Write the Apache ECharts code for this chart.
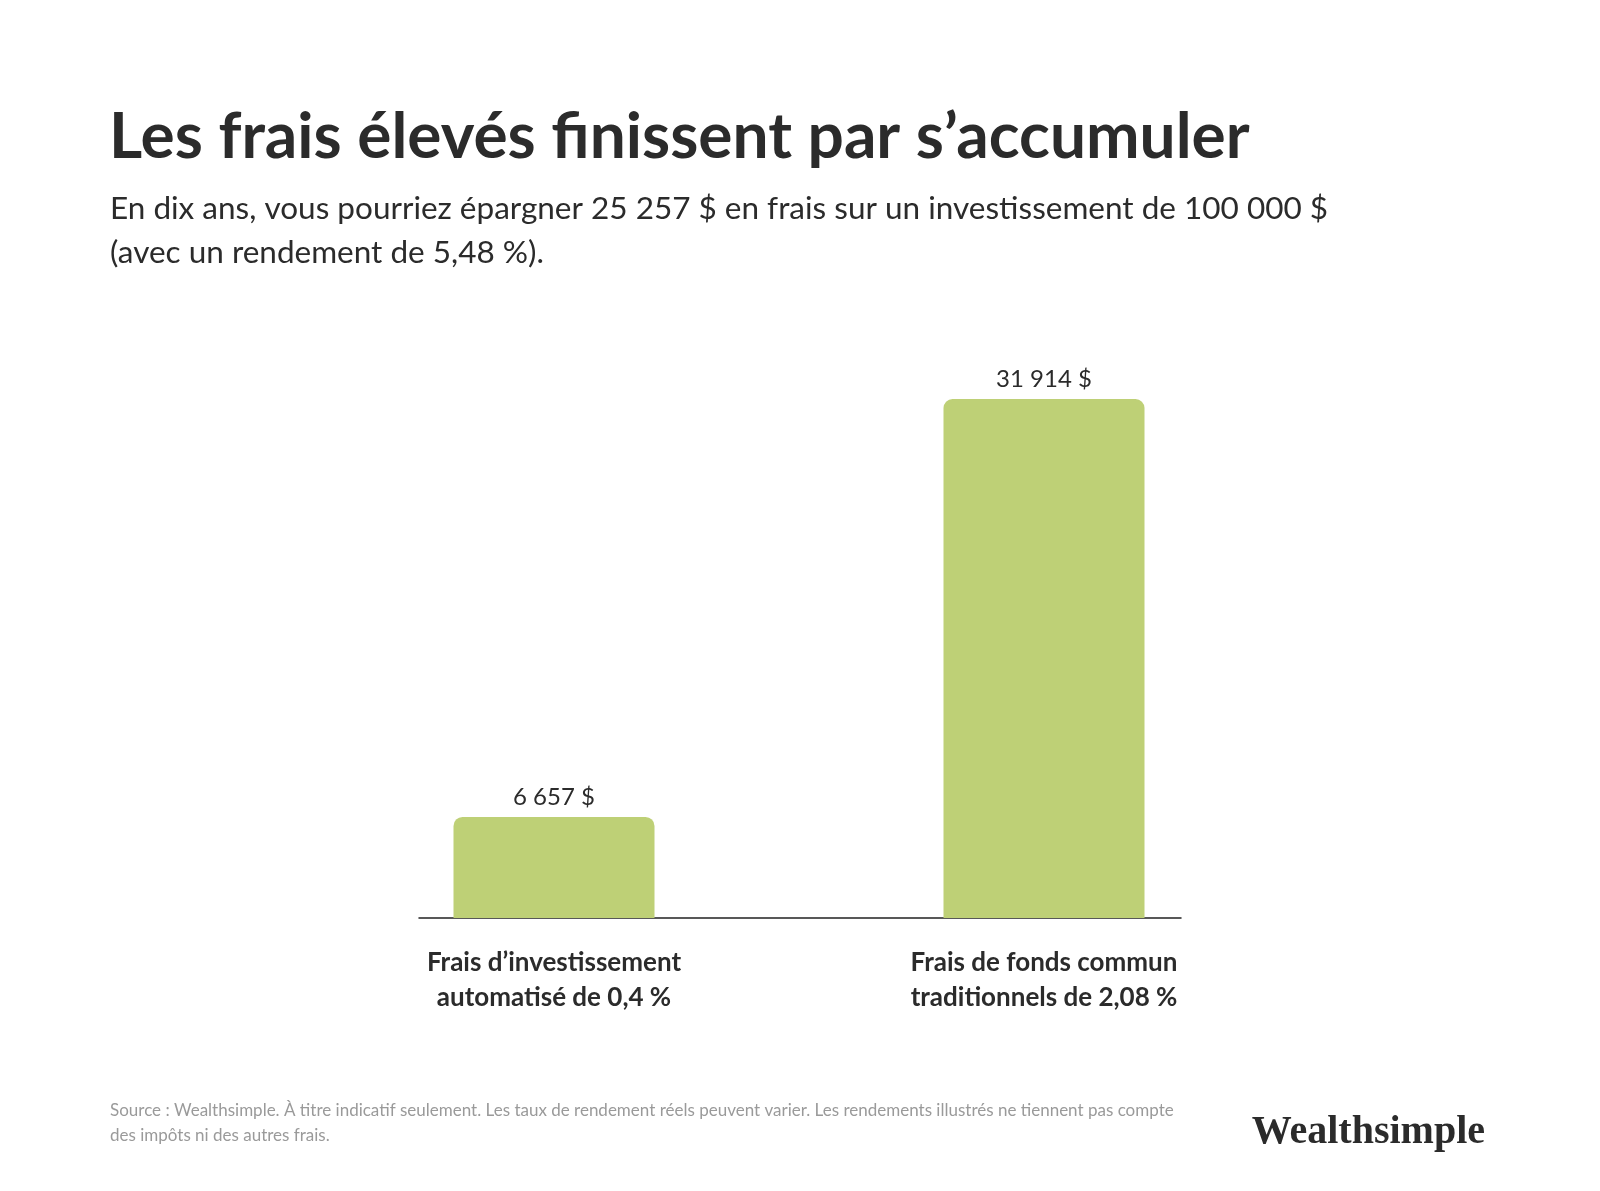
<!DOCTYPE html>
<html>
<head>
<meta charset="utf-8">
<script src="https://cdn.jsdelivr.net/npm/echarts@6/dist/echarts.min.js"></script>
<style>
html,body{margin:0;padding:0;background:#ffffff;}
#chart{width:1600px;height:1191px;}
</style>
</head>
<body>
<div id="chart"></div>
<script>
const categories = ['Frais d’investissement\nautomatisé de 0,4 %', 'Frais de fonds commun\ntraditionnels de 2,08 %'];
const feeValues = [6657, 31914];
const titleText = 'Les frais élevés finissent par s’accumuler';
const subtitleText = 'En dix ans, vous pourriez épargner 25 257 $ en frais sur un investissement de 100 000 $\n(avec un rendement de 5,48 %).';
const sourceText = 'Source : Wealthsimple. À titre indicatif seulement. Les taux de rendement réels peuvent varier. Les rendements illustrés ne tiennent pas compte\ndes impôts ni des autres frais.';
const brandText = 'Wealthsimple';
const yMin = 550;
const yMax = 31914;

function fmt(v) {
  return String(v).replace(/\B(?=(\d{3})+(?!\d))/g, ' ') + ' $';
}

const FONT = 'Lato, "Noto Sans", sans-serif';
const chart = echarts.init(document.getElementById('chart'), null, {renderer: 'canvas'});
chart.setOption({
  backgroundColor: '#ffffff',
  animation: false,
  title: [
    {
      text: titleText,
      left: 104, top: 100,
      textStyle: {fontFamily: FONT, fontSize: 64, fontWeight: 'bold', color: '#2b2b2b'}
    },
    {
      text: subtitleText,
      left: 105, top: 182,
      textStyle: {fontFamily: FONT, fontSize: 31.5, fontWeight: 'normal', color: '#2b2b2b', lineHeight: 44}
    },
    {
      text: sourceText,
      left: 105, top: 1093,
      textStyle: {fontFamily: FONT, fontSize: 17, fontWeight: 'normal', color: '#9a9a9a', lineHeight: 25}
    },
    {
      text: brandText,
      right: 110, top: 1108,
      textStyle: {fontFamily: '"Liberation Serif", "DejaVu Serif", serif', fontSize: 40, fontWeight: 'bold', color: '#2b2b2b'}
    }
  ],
  grid: [
    {left: 309, right: 311, top: 399, bottom: 273, containLabel: false},
    {left: 419, right: 419, top: 399, bottom: 273, containLabel: false}
  ],
  xAxis: [
    {
      type: 'category', gridIndex: 0, data: categories,
      axisLine: {show: false}, axisTick: {show: false},
      axisLabel: {
        margin: 27, fontFamily: FONT, fontSize: 26, fontWeight: 'bold',
        color: '#2b2b2b', lineHeight: 35, interval: 0
      }
    },
    {
      type: 'category', gridIndex: 1, data: categories,
      axisLine: {show: true, lineStyle: {color: '#222222', width: 1.5}},
      axisTick: {show: false}, axisLabel: {show: false}
    }
  ],
  yAxis: [
    {type: 'value', gridIndex: 0, min: yMin, max: yMax, show: false, splitLine: {show: false}},
    {type: 'value', gridIndex: 1, min: 0, max: 1, show: false, splitLine: {show: false}}
  ],
  series: [
    {
      type: 'bar', xAxisIndex: 0, yAxisIndex: 0,
      data: feeValues,
      barWidth: 201,
      itemStyle: {color: '#bed076', borderRadius: [9, 9, 0, 0]},
      label: {
        show: true, position: 'top', distance: 8,
        fontFamily: FONT, fontSize: 24, color: '#2b2b2b',
        formatter: p => fmt(p.value)
      }
    }
  ]
});
</script>
</body>
</html>
